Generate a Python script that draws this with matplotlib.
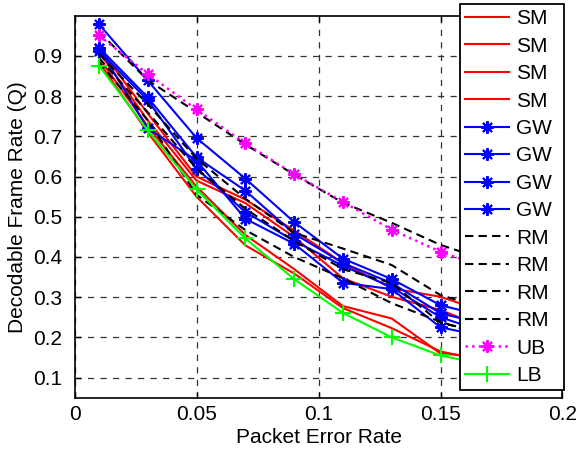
import numpy as np
import matplotlib.pyplot as plt

plt.rcParams['font.family'] = ['Liberation Sans', 'DejaVu Sans']

# packet error rate
per = [0.01, 0.03, 0.05, 0.07, 0.09, 0.11, 0.13, 0.15, 0.17]

# decodable frame rate
sm = [
    [0.921, 0.757, 0.600, 0.543, 0.466, 0.385, 0.322, 0.301, 0.26],
    [0.910, 0.740, 0.590, 0.534, 0.450, 0.347, 0.301, 0.268, 0.22],
    [0.895, 0.725, 0.575, 0.455, 0.370, 0.278, 0.247, 0.160, 0.15],
    [0.885, 0.710, 0.550, 0.429, 0.359, 0.273, 0.223, 0.165, 0.14],
]
gw = [
    [0.979, 0.839, 0.696, 0.595, 0.487, 0.396, 0.345, 0.280, 0.25],
    [0.921, 0.797, 0.648, 0.565, 0.458, 0.385, 0.335, 0.260, 0.23],
    [0.913, 0.790, 0.620, 0.512, 0.440, 0.378, 0.325, 0.250, 0.21],
    [0.920, 0.720, 0.640, 0.495, 0.433, 0.336, 0.320, 0.225, 0.20],
]
rm = [
    [0.960, 0.840, 0.760, 0.680, 0.605, 0.535, 0.485, 0.430, 0.39],
    [0.905, 0.780, 0.645, 0.545, 0.460, 0.421, 0.380, 0.305, 0.27],
    [0.895, 0.760, 0.620, 0.520, 0.440, 0.370, 0.335, 0.236, 0.21],
    [0.885, 0.740, 0.555, 0.467, 0.400, 0.347, 0.285, 0.239, 0.20],
]
ub = [0.951, 0.855, 0.767, 0.683, 0.606, 0.537, 0.468, 0.413, 0.37]
lb = [0.876, 0.715, 0.568, 0.446, 0.345, 0.261, 0.200, 0.155, 0.13]

x_ticks = [0, 0.05, 0.1, 0.15, 0.2]
y_ticks = [0.1, 0.2, 0.3, 0.4, 0.5, 0.6, 0.7, 0.8, 0.9]

fig = plt.figure(figsize=(5.79, 4.5), dpi=100)
ax = fig.add_axes([0.1287, 0.1162, 0.8428, 0.8488])

ast = (8, 2, 0)  # asterisk like matlab '*'
for s in sm:
    ax.plot(per, s, '-', color='#ff0000', lw=1.5, label='SM')
for s in gw:
    ax.plot(per, s, '-', color='#0000ff', lw=1.5, marker=ast, ms=9, mew=1.5, label='GW')
for s in rm:
    ax.plot(per, s, '--', color='black', lw=1.5, dashes=(4, 2.5), label='RM')
ax.plot(per, ub, ':', color='#ff00ff', lw=1.8, marker=ast, ms=9, mew=1.5, label='UB')
ax.plot(per, lb, '-', color='#00ff00', lw=1.5, marker='+', ms=11, mew=1.5, label='LB')

ax.set_xlim(0, 0.2)
ax.set_ylim(0.05, 1.0)
ax.set_xticks(x_ticks)
ax.set_xticklabels(['0', '0.05', '0.1', '0.15', '0.2'])
ax.set_yticks(y_ticks)
ax.set_yticklabels([str(v) for v in y_ticks])
ax.tick_params(direction='in', labelsize=15, length=4, width=1, top=True, right=True, pad=5)
ax.tick_params(axis='y', pad=9)
ax.grid(True, color='#333333', linestyle=(0, (5, 5)), linewidth=0.9)
for sp in ax.spines.values():
    sp.set_linewidth(1.2)

ax.set_xlabel('Packet Error Rate', fontsize=15, labelpad=3)
ax.set_ylabel('Decodable Frame Rate (Q)', fontsize=15, labelpad=4)

leg = ax.legend(loc='upper left', bbox_to_anchor=(0.7945, 0.991 - 0.875, 0.1795, 0.875),
                bbox_transform=fig.transFigure, mode='expand', borderaxespad=0,
                fontsize=15, handlelength=2.1, handletextpad=0.35, labelspacing=0.405,
                borderpad=0.25, fancybox=False, framealpha=1, edgecolor='black')
leg.get_frame().set_linewidth(1.3)

fig.savefig('out.png', dpi=100)
